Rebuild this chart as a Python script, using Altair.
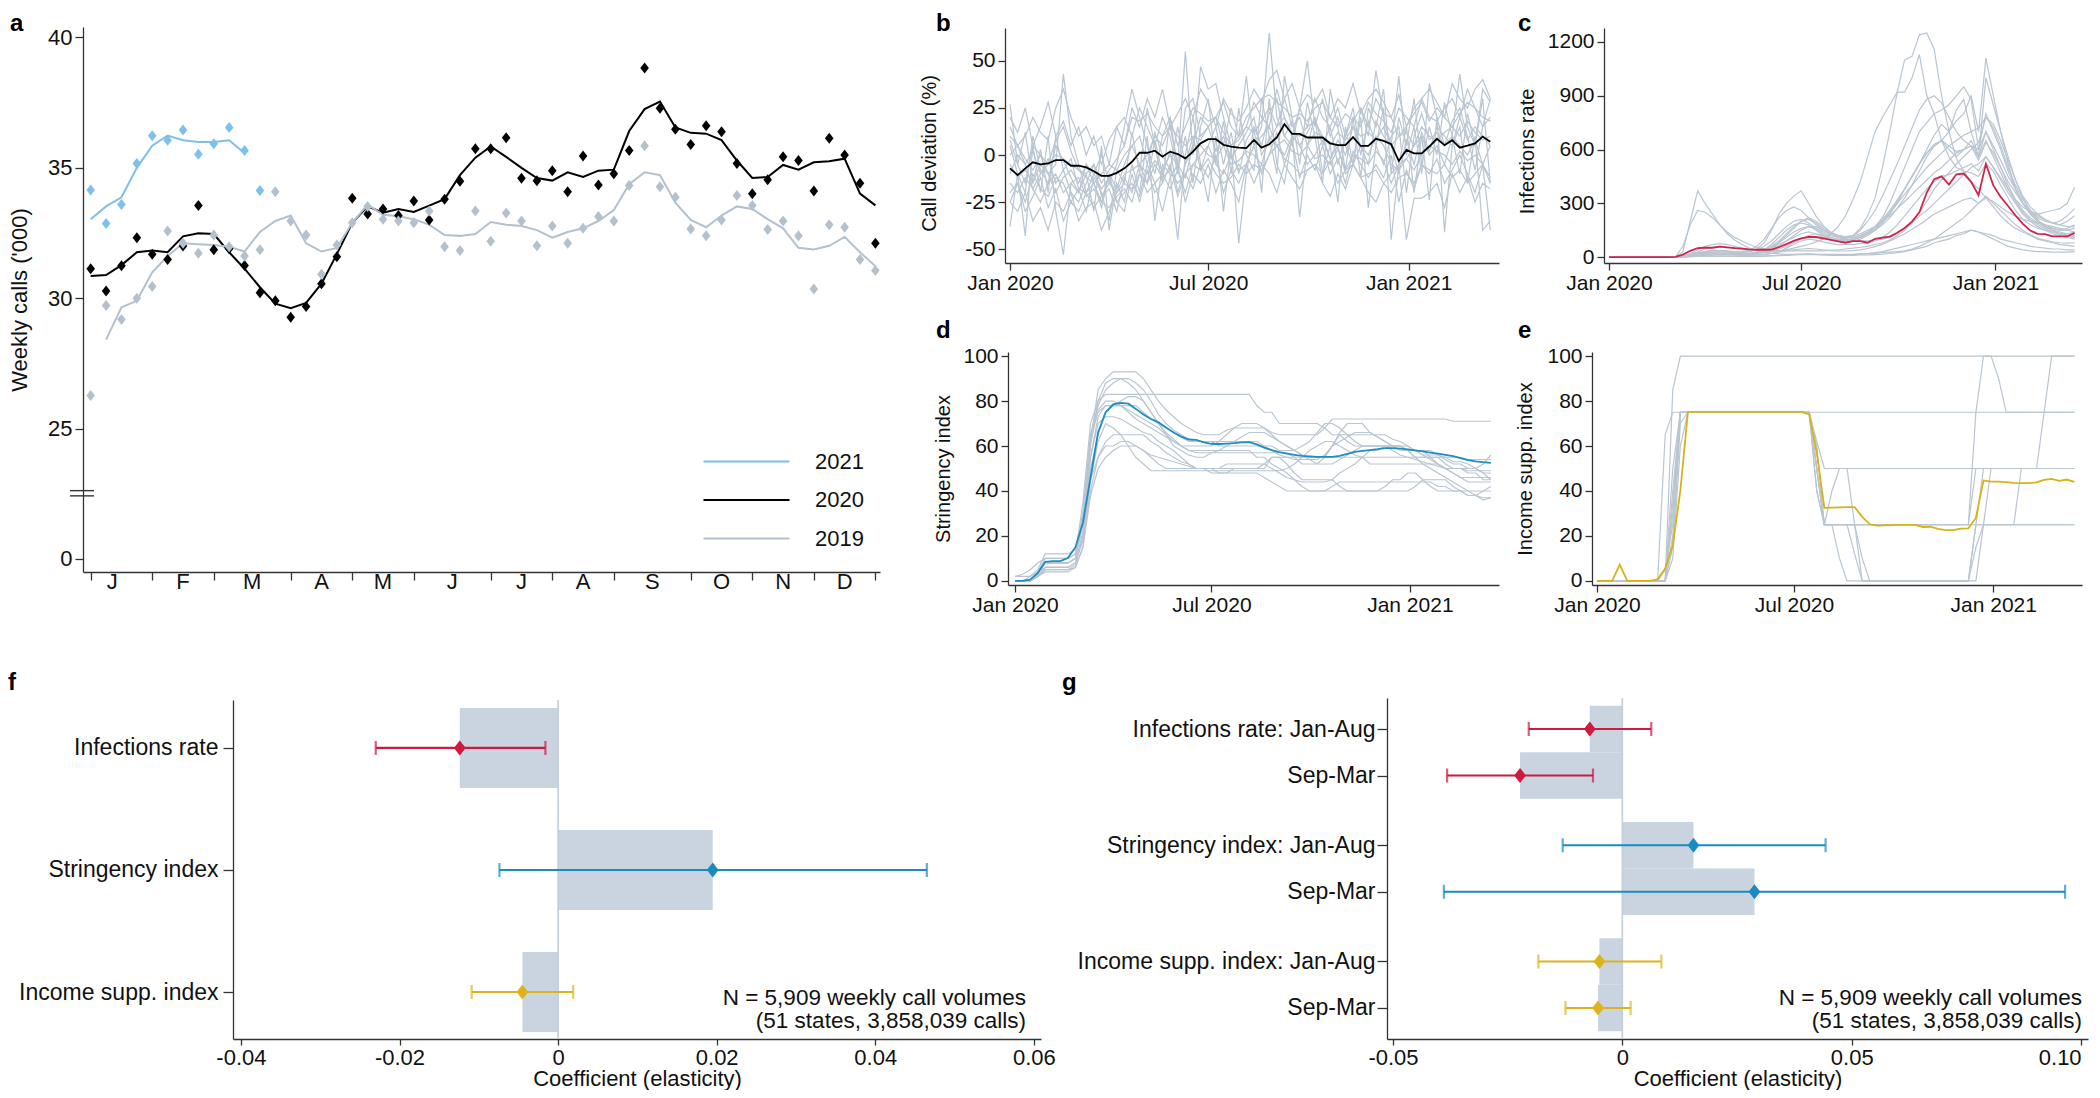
import altair as alt
import pandas as pd

W, H = 2084, 1082
FONT = "Liberation Sans"
AXC = "#333333"
GREY = "#B9C5D1"
BARC = "#C9D4E0"
ZEROC = "#C3CEDA"
DIAMOND = "M0,-1L0.78,0L0,1L-0.78,0Z"

# ---------------- panel a: weekly calls ('000) ----------------
calls_2020 = [31.13, 30.28, 31.24, 32.32, 31.69, 31.48, 32.0, 33.55, 31.86, 31.90, 31.25, 30.21, 29.90,
              29.27, 29.68, 30.55, 31.59, 33.83, 33.23, 33.42, 33.17, 33.73, 33.0, 33.79, 34.48, 35.73,
              35.73, 36.15, 34.6, 34.5, 34.89, 34.08, 35.45, 34.34, 34.77, 35.66, 38.83, 37.28, 36.48,
              35.89, 36.61, 36.38, 35.17, 34.01, 34.54, 35.42, 35.28, 34.11, 36.13, 35.49, 34.41, 32.11]
smooth_2020 = [30.85, 30.89, 31.27, 31.76, 31.83, 31.76, 32.37, 32.49, 32.46, 31.76, 31.13, 30.42, 29.79,
               29.62, 29.82, 30.56, 31.69, 32.89, 33.52, 33.28, 33.42, 33.31, 33.55, 33.80, 34.72, 35.39,
               35.82, 35.42, 35.0, 34.61, 34.51, 34.83, 34.65, 34.89, 34.93, 36.41, 37.25, 37.54, 36.55,
               36.34, 36.31, 36.06, 35.28, 34.61, 34.65, 35.11, 34.93, 35.21, 35.25, 35.35, 34.01, 33.56]
calls_2019 = [26.27, 29.72, 29.18, 30.0, 30.45, 32.58, 32.11, 31.72, 32.42, 31.97, 31.62, 31.86, 34.08,
              32.96, 32.42, 30.92, 32.04, 32.89, 33.52, 33.03, 32.96, 32.89, 33.34, 31.97, 31.83, 33.34,
              32.18, 33.27, 32.96, 32.01, 32.77, 32.11, 32.68, 33.13, 32.96, 34.32, 35.85, 34.27, 33.87,
              32.65, 32.39, 33.0, 33.94, 33.55, 32.63, 32.96, 32.39, 30.35, 32.82, 32.72, 31.48, 31.06]
smooth_2019 = [28.41, 29.65, 29.90, 30.99, 31.62, 32.11, 32.07, 32.04, 31.97, 31.79, 32.54, 32.96, 33.17,
               32.11, 31.79, 31.93, 32.89, 33.59, 33.20, 33.14, 33.03, 32.82, 32.42, 32.39, 32.46, 32.92,
               32.82, 32.77, 32.61, 32.32, 32.54, 32.68, 32.96, 33.38, 34.37, 34.83, 34.72, 33.66, 33.0,
               32.72, 33.17, 33.52, 33.42, 33.03, 32.68, 31.93, 31.87, 32.01, 32.35, 31.76, 31.23]  # weeks 2-52
calls_2021 = [34.15, 32.86, 33.59, 35.17, 36.23, 36.06, 36.45, 35.52, 35.92, 36.55, 35.66, 34.13]
smooth_2021 = [33.03, 33.52, 33.87, 35.0, 35.85, 36.24, 36.06, 35.99, 35.99, 36.06, 35.56]
years = ["2021", "2020", "2019"]
year_colors = ["#7DC0EC", "#000000", "#B3C0CE"]
month_letters = ["J", "F", "M", "A", "M", "J", "J", "A", "S", "O", "N", "D"]
month_mid_weeks = [2.4, 7, 11.5, 16, 20, 24.5, 29, 33, 37.5, 42, 46, 50]
month_tick_weeks = [1, 5, 9, 14, 18, 22, 27, 31, 35, 40, 44, 48, 52]
a_yticks = [20, 25, 30, 35, 40]  # 20 is drawn as the "0" of the broken axis
break_marks = [22.42, 22.62]

# ---------------- panel b: call deviation (%) ----------------
b_mean = [-7.1, -10.7, -7.1, -3.9, -5.0, -4.5, -2.7, -2.7,
          -5.7, -5.7, -6.6, -8.6, -11.1, -11.1, -9.5, -7.1,
          -3.6, 1.2, 1.2, 2.3, -0.9, 1.8, 0.5, -1.8,
          1.8, 6.2, 8.4, 8.4, 5.4, 4.5, 3.9, 3.7,
          8.0, 3.9, 5.7, 9.3, 16.4, 11.2, 11.2, 9.3,
          9.3, 9.3, 6.2, 5.2, 5.2, 9.5, 4.8, 4.8,
          8.6, 7.5, 5.7, -3.2, 2.7, 0.9, 0.9, 4.5,
          8.6, 5.2, 7.9, 3.9, 5.0, 6.2, 9.8, 7.0]
b_states = {
    "s1": [5, -10, -20, 10, -8, -15, 5, -3, -12, -20, -5, -15, -25, -10, -18, -5,
           5, 10, -5, 12, 0, -8, 15, -5, 5, 20, 15, 2, 10, -2, 5, 12,
           20, 0, 8, 15, 30, 15, 20, 5, 12, 10, -2, 8, 0, 15, 5, -5,
           18, 10, 5, -10, 8, -5, 12, 2, 15, 10, 5, 20, 8, 15, 10, 5],
    "s2": [27, -5, -15, 5, 0, -10, -5, 43, 10, -5, -20, -10, 0, -15, -5, 15,
           35, 20, 5, -10, 10, 15, -5, 55, 0, 47, 35, 38, 20, 5, 10, 42,
           5, 15, 65, 20, 10, 5, 25, 50, 15, 30, 10, 20, 5, -5, 25, 10,
           45, 20, 5, 42, 0, 15, -10, 38, 20, 5, 10, 43, 15, 5, 35, 28],
    "s3": [-38, -10, -43, 5, -20, 10, -30, -53, -15, -20, -10, -30, 5, -40, -15, -25,
           -5, -20, 10, -35, -5, -10, -45, 0, 20, -5, -25, 10, -30, 5, -47, -10,
           15, -20, 30, -5, -15, 10, -33, 5, 20, -10, 5, -25, 15, -5, 20, -28,
           5, 25, -45, -5, 15, -20, 10, -24, 20, -41, 5, 15, -15, 10, -40, -35],
    "s4": [-20, -15, -25, -10, -18, -22, -12, -15, -25, -18, -20, -28, -22, -15, -20, -10,
           -8, -5, -10, -3, -8, 0, -5, -12, 5, 5, 0, -2, 5, -5, -3, 2,
           0, -5, 10, 5, 8, 2, 0, 5, -2, 0, -5, 3, -8, 0, -2, -5,
           2, -3, -15, -5, -2, -8, 0, 5, 2, 0, -5, 2, -3, 0, -5, -15],
    "s5": [10, 5, -2, -8, 0, -5, 8, 15, 2, -8, -10, -5, -15, -8, -2, 5,
           20, 18, 22, 15, 10, 20, 5, 15, 25, 22, 18, 20, 28, 15, 10, 20,
           25, 30, 32, 28, 25, 20, 22, 18, 25, 28, 20, 15, 22, 18, 25, 15,
           30, 22, 20, 10, 15, 22, 28, 18, 25, 20, 15, 22, 28, 25, 20, 18],
    "s6": [-15, -20, -12, -18, -25, -15, -10, -20, -15, -12, -22, -18, -25, -28, -20, -15,
           -18, -10, -15, -5, -12, -8, -15, -10, -5, -8, -2, -10, -15, -12, -5, -10,
           -5, -8, 0, 5, -2, -5, -10, -8, -5, -10, -3, -15, -8, -5, -12, -10,
           -8, -15, -20, -12, -10, -15, -5, -8, -10, -5, -12, -8, -15, -10, -5, -12],
    "s7": [0, 5, -5, 2, -10, -5, 0, -2, -5, -8, -12, -15, -10, -5, -8, 0,
           5, -5, 0, 10, 5, 15, 10, 5, 10, 8, 15, 20, 12, 5, 8, 15,
           12, 18, 25, 15, 20, 12, 10, 15, 18, 10, 5, 12, 8, 15, 10, 12,
           8, 15, 5, 10, 12, 5, 15, 10, 8, 12, 15, 10, 18, 12, 8, 10],
    "s8": [-5, -12, -8, -15, -5, -10, -20, -12, -8, -15, -5, -10, -18, -12, -25, -20,
           -15, -22, -5, -15, -10, -18, -8, -20, -5, 0, 5, -5, -10, 0, -8, -5,
           5, 10, 15, 5, 0, 10, 5, -5, 0, 8, -2, 5, -10, -5, 5, 0,
           10, 5, -5, -8, -2, 5, 10, 0, 5, -5, 10, 5, 0, 8, -5, 5],
    "s9": [15, 5, 10, 20, 12, 8, 25, 35, 20, 10, 15, 5, 10, -5, 15, 20,
           10, 25, 15, 5, 20, 10, -10, 25, 30, 10, 15, 20, 5, 25, 10, 15,
           28, 20, 15, 35, 20, 10, 25, 15, 30, 20, 15, 25, 10, 20, 15, 28,
           22, 18, 12, 25, 20, 15, 30, 20, 18, 25, 30, 20, 35, 25, 15, 20],
    "s10": [-25, -30, -20, -35, -28, -40, -25, -30, -20, -35, -28, -25, -40, -30, -22, -18,
            -25, -10, -20, -15, -30, -12, -5, -25, -10, -15, -5, -20, -8, -15, -25, -5,
            -15, -5, -10, -20, -5, -12, -18, -8, -5, -15, -22, -10, -18, -5, -12, -20,
            -25, -15, -10, -5, -45, -23, -23, -20, -15, -28, -10, -20, -12, -25, -15, -18],
    "s11": [8, -5, 12, -15, 3, -20, 10, -8, -2, -18, -30, -12, -20, -35, -8, -15,
            12, -10, 25, 5, -15, 20, -8, 10, -15, 15, 30, -5, 18, -10, 25, 0,
            -8, 30, 10, -10, 42, 20, -5, 28, 10, -15, 35, 15, -8, 20, -12, 25,
            15, 35, -10, 20, 5, 30, -5, 15, 0, 28, 10, -10, 22, 5, 30, -15],
    "s12": [-10, 0, -5, -18, -10, -2, -15, -8, -20, -25, -15, -5, -22, -18, -30, -12,
            -20, -5, -15, 8, -10, 2, -20, -5, 10, -8, 5, 15, -5, 12, -10, 8,
            15, 5, 22, 30, 10, 18, 5, 12, 20, 5, 15, -5, 10, 25, 0, 18,
            5, -5, 10, 15, -20, 10, 22, 8, 12, 5, 18, 25, 10, -8, 15, 30],
    "s13": [-25, -15, -30, -22, -12, -28, -18, -35, -25, -30, -20, -15, -28, -10, -25, -30,
            -10, -25, -8, -20, -15, -5, -22, -10, -18, -5, -12, 0, -20, -8, -15, -5,
            5, -10, 0, 12, -5, 8, -12, 0, -8, 5, -10, -2, -15, 2, -5, -12,
            -5, -12, 0, -25, -8, -18, -5, -10, -2, -15, -8, 0, -10, -20, -5, -40],
    "s14": [20, 12, 25, 5, 15, 28, 10, 18, 5, 15, 0, 10, -5, 8, 15, 5,
            25, 15, 30, 20, 35, 15, 22, 30, 20, 35, 28, 15, 30, 22, 18, 25,
            35, 28, 40, 45, 30, 38, 25, 32, 28, 35, 20, 30, 25, 38, 22, 30,
            35, 28, 20, 32, 15, 25, 30, 35, 28, 20, 38, 30, 25, 35, 40, 30],
}

# ---------------- panel c: infections rate ----------------
c_mean = [0, 0, 0, 0, 0, 0, 0, 0,
          0, 1, 14, 35, 50, 52, 52, 58,
          54, 50, 47, 43, 41, 41, 42, 55,
          72, 90, 104, 112, 112, 104, 96, 88,
          80, 89, 89, 80, 102, 109, 114, 136,
          162, 198, 250, 360, 435, 450, 405, 462,
          466, 420, 345, 520, 400, 335, 285, 232,
          185, 148, 130, 128, 115, 115, 115, 135]
c_states = {
    "s1": [0, 0, 0, 0, 0, 0, 0, 0, 0, 0, 30, 200, 370, 300, 240, 180,
           130, 95, 70, 50, 38, 28, 22, 18, 15, 15, 15, 15, 15, 15, 15, 15,
           15, 15, 18, 20, 22, 25, 28, 30, 35, 45, 60, 80, 100, 130, 160, 190,
           220, 260, 300, 330, 310, 280, 250, 230, 210, 200, 190, 180, 170, 160, 150, 140],
    "s2": [0, 0, 0, 0, 0, 0, 0, 0, 0, 0, 2, 5, 8, 10, 12, 15,
           15, 18, 20, 22, 25, 28, 30, 35, 40, 50, 60, 70, 85, 100, 130, 170,
           230, 320, 420, 560, 700, 780, 850, 920, 1100, 1120, 1240, 1250, 1160, 900, 700, 550,
           480, 420, 380, 330, 280, 230, 190, 160, 140, 120, 100, 90, 80, 70, 65, 60],
    "s3": [0, 0, 0, 0, 0, 0, 0, 0, 0, 0, 5, 10, 15, 20, 20, 20,
           20, 18, 15, 15, 20, 30, 50, 80, 120, 160, 200, 220, 200, 170, 140, 120,
           110, 110, 120, 140, 170, 210, 260, 320, 380, 450, 520, 580, 620, 650, 700, 760,
           800, 900, 700, 1110, 900, 700, 520, 380, 300, 250, 200, 170, 150, 140, 130, 120],
    "s4": [0, 0, 0, 0, 0, 0, 0, 0, 0, 0, 3, 8, 12, 15, 18, 20,
           20, 20, 25, 30, 45, 80, 150, 240, 300, 340, 370, 300, 230, 175, 135, 110,
           100, 95, 90, 90, 95, 100, 110, 130, 160, 200, 250, 310, 380, 430, 470, 520,
           560, 600, 640, 780, 720, 620, 500, 400, 320, 260, 210, 170, 150, 130, 120, 110],
    "s5": [0, 0, 0, 0, 0, 0, 0, 0, 0, 0, 1, 3, 5, 6, 6, 5,
           5, 4, 4, 4, 4, 5, 6, 8, 10, 12, 14, 15, 14, 12, 10, 10,
           10, 10, 12, 12, 14, 16, 20, 25, 30, 40, 50, 60, 80, 90, 100, 120,
           130, 150, 140, 130, 120, 100, 90, 80, 70, 60, 55, 50, 45, 45, 40, 40],
    "s6": [0, 0, 0, 0, 0, 0, 0, 0, 0, 0, 5, 20, 40, 60, 70, 75,
           70, 60, 50, 40, 35, 30, 35, 45, 60, 80, 100, 120, 130, 120, 100, 95,
           90, 100, 110, 130, 150, 180, 220, 270, 330, 400, 480, 560, 620, 650, 600, 560,
           600, 650, 560, 700, 620, 540, 450, 380, 300, 240, 200, 180, 160, 150, 160, 180],
    "s7": [0, 0, 0, 0, 0, 0, 0, 0, 0, 2, 60, 180, 260, 250, 220, 180,
           140, 110, 90, 70, 55, 45, 40, 35, 35, 35, 35, 35, 35, 35, 38, 40,
           45, 50, 55, 60, 70, 80, 95, 120, 150, 190, 230, 260, 300, 340, 380, 420,
           460, 500, 520, 560, 500, 440, 380, 320, 280, 250, 240, 250, 260, 270, 300, 390],
    "s8": [0, 0, 0, 0, 0, 0, 0, 0, 0, 0, 2, 5, 10, 15, 20, 22,
           22, 20, 18, 18, 20, 25, 40, 60, 90, 120, 150, 170, 170, 150, 130, 120,
           110, 110, 120, 140, 170, 220, 300, 400, 500, 600, 700, 750, 800, 820, 850, 900,
           950, 880, 600, 800, 700, 600, 480, 380, 300, 240, 200, 170, 150, 130, 120, 110],
    "s9": [0, 0, 0, 0, 0, 0, 0, 0, 0, 0, 2, 10, 20, 30, 35, 35,
           30, 25, 20, 18, 15, 15, 20, 30, 50, 70, 90, 100, 95, 85, 75, 70,
           70, 70, 75, 80, 90, 110, 140, 180, 230, 280, 330, 380, 420, 450, 460, 480,
           500, 520, 480, 560, 500, 430, 360, 300, 240, 200, 170, 150, 130, 120, 110, 100],
    "s10": [0, 0, 0, 0, 0, 0, 0, 0, 0, 0, 0, 2, 4, 5, 5, 5,
            5, 5, 5, 5, 5, 6, 8, 10, 12, 14, 16, 16, 15, 14, 13, 12,
            12, 14, 16, 20, 25, 30, 40, 50, 60, 70, 80, 90, 100, 110, 120, 130,
            140, 150, 140, 120, 100, 80, 60, 50, 40, 35, 30, 30, 28, 28, 28, 30],
    "s11": [0, 0, 0, 0, 0, 0, 0, 0, 0, 0, 3, 10, 18, 25, 28, 30,
            28, 25, 22, 20, 25, 35, 55, 80, 110, 140, 160, 170, 160, 140, 120, 110,
            110, 120, 150, 200, 260, 340, 430, 520, 620, 720, 820, 880, 900, 860, 780, 700,
            650, 620, 600, 700, 600, 500, 400, 320, 260, 220, 190, 170, 160, 150, 150, 160],
    "s12": [0, 0, 0, 0, 0, 0, 0, 0, 0, 0, 5, 15, 30, 45, 55, 60,
            55, 50, 45, 40, 40, 45, 60, 90, 130, 170, 200, 210, 190, 160, 130, 110,
            100, 100, 110, 130, 160, 200, 250, 300, 350, 400, 450, 500, 540, 580, 620, 650,
            680, 700, 720, 780, 740, 650, 540, 430, 340, 280, 240, 210, 190, 180, 200, 230],
    "s13": [0, 0, 0, 0, 0, 0, 0, 0, 0, 0, 2, 8, 15, 20, 22, 20,
            18, 15, 15, 18, 25, 40, 70, 110, 150, 180, 190, 180, 150, 120, 100, 90,
            85, 90, 100, 120, 150, 190, 240, 300, 380, 450, 520, 580, 630, 650, 620, 590,
            600, 620, 560, 650, 560, 470, 380, 310, 250, 210, 180, 160, 140, 130, 130, 140],
    "s14": [0, 0, 0, 0, 0, 0, 0, 0, 0, 0, 5, 15, 25, 30, 35, 35,
            30, 28, 30, 40, 60, 100, 160, 220, 260, 280, 260, 220, 180, 150, 130, 120,
            115, 120, 130, 150, 170, 200, 230, 270, 310, 350, 390, 430, 470, 500, 540, 580,
            600, 620, 540, 640, 580, 500, 420, 360, 300, 260, 230, 210, 190, 180, 170, 170],
    "s15": [0, 0, 0, 0, 0, 0, 0, 0, 0, 0, 1, 4, 8, 12, 14, 15,
            14, 12, 10, 10, 12, 15, 20, 28, 35, 40, 45, 48, 45, 40, 36, 34,
            34, 36, 40, 48, 58, 72, 90, 110, 130, 155, 180, 210, 240, 260, 280, 300,
            320, 330, 300, 340, 300, 260, 220, 180, 150, 125, 105, 95, 85, 80, 78, 80],
    "s16": [0, 0, 0, 0, 0, 0, 0, 0, 0, 0, 3, 8, 15, 20, 22, 22,
            20, 18, 18, 20, 25, 35, 50, 70, 90, 110, 130, 140, 130, 110, 100, 95,
            100, 120, 160, 230, 330, 500, 700, 920, 920, 1000, 1130, 900, 800, 650, 560, 500,
            480, 470, 450, 520, 480, 400, 330, 260, 210, 180, 160, 150, 140, 130, 120, 110],
    "s17": [0, 0, 0, 0, 0, 0, 0, 0, 0, 0, 4, 12, 22, 30, 35, 38,
            35, 30, 28, 30, 40, 60, 90, 130, 170, 200, 210, 190, 160, 130, 110, 100,
            95, 100, 110, 130, 160, 200, 250, 310, 380, 450, 520, 600, 680, 740, 700, 820,
            880, 700, 560, 1000, 850, 700, 560, 430, 330, 260, 220, 200, 190, 200, 230, 270],
}

# ---------------- panel d: stringency index ----------------
d_mean = [0, 0, 0.6, 3.5, 8.5, 8.8, 8.8, 10.2,
          15, 26, 46, 66, 75, 78.5, 79.2, 78.8,
          76.5, 74, 72, 70.5, 68.2, 66, 64.2, 62.9,
          62.7, 61.6, 61, 60.9, 61.1, 61.3, 61.6, 61.7,
          60.7, 59.3, 58.2, 57.3, 56.6, 56.1, 55.6, 55.4,
          55.2, 55.2, 55.2, 55.6, 56.5, 57.4, 57.8, 58.2,
          58.6, 59.1, 59.1, 58.8, 58.5, 58.1, 57.6, 57.1,
          56.6, 56.1, 55.5, 54.6, 53.7, 53.2, 52.8, 52.5]
d_states = {
    "s1": [0, 0, 2, 5, 12, 12, 12, 12, 14, 30, 62, 85, 90, 93, 93, 93,
           93, 90, 85, 80, 76, 73, 70, 68, 66, 65, 65, 65, 67, 68, 68, 68,
           68, 68, 66, 65, 65, 65, 65, 65, 65, 68, 72, 72, 72, 72, 72, 72,
           72, 72, 72, 72, 72, 72, 72, 72, 72, 72, 71, 71, 71, 71, 71, 71],
    "s2": [0, 0, 0, 2, 6, 6, 6, 6, 8, 20, 45, 55, 60, 60, 62, 62,
           60, 58, 55, 52, 50, 50, 50, 50, 50, 50, 50, 50, 50, 50, 50, 50,
           50, 52, 55, 55, 52, 48, 45, 45, 45, 45, 45, 42, 40, 40, 40, 40,
           40, 40, 40, 40, 40, 42, 45, 45, 45, 45, 42, 40, 38, 38, 36, 37],
    "s3": [2, 3, 5, 8, 10, 10, 10, 10, 12, 35, 70, 80, 83, 83, 83, 83,
           83, 83, 83, 83, 83, 83, 83, 83, 83, 83, 83, 83, 83, 83, 83, 83,
           78, 75, 75, 70, 70, 70, 70, 70, 70, 68, 65, 65, 62, 60, 60, 60,
           60, 60, 60, 58, 58, 55, 55, 55, 55, 52, 50, 50, 48, 48, 45, 45],
    "s4": [0, 0, 0, 3, 8, 8, 8, 8, 10, 25, 55, 70, 73, 73, 72, 70,
           68, 66, 65, 62, 60, 58, 55, 52, 50, 50, 48, 48, 48, 50, 50, 50,
           50, 50, 55, 55, 55, 55, 55, 55, 55, 55, 55, 55, 55, 55, 55, 52,
           52, 52, 52, 52, 52, 52, 52, 52, 52, 50, 50, 50, 50, 50, 48, 48],
    "s5": [0, 0, 0, 4, 10, 10, 10, 10, 12, 25, 50, 65, 75, 78, 80, 82,
           82, 80, 75, 70, 65, 60, 58, 56, 55, 55, 57, 58, 60, 62, 64, 66,
           66, 66, 64, 62, 60, 58, 56, 55, 55, 55, 60, 66, 70, 70, 70, 66,
           64, 62, 60, 60, 60, 58, 58, 58, 56, 54, 52, 52, 50, 50, 52, 56],
    "s6": [0, 0, 0, 2, 5, 5, 5, 5, 7, 20, 55, 73, 78, 78, 78, 76,
           74, 72, 70, 68, 65, 62, 60, 58, 58, 58, 58, 58, 58, 58, 58, 58,
           55, 55, 52, 50, 48, 45, 42, 40, 40, 40, 40, 40, 40, 40, 40, 40,
           40, 42, 45, 45, 48, 48, 45, 42, 40, 40, 40, 40, 38, 38, 40, 42],
    "s7": [0, 0, 0, 3, 8, 8, 8, 8, 10, 30, 65, 78, 85, 88, 90, 90,
           88, 85, 80, 74, 70, 67, 65, 63, 62, 62, 62, 60, 60, 60, 60, 60,
           60, 60, 60, 58, 58, 58, 60, 62, 66, 70, 70, 68, 65, 62, 60, 60,
           60, 60, 60, 60, 58, 58, 58, 55, 55, 55, 53, 53, 52, 50, 48, 45],
    "s8": [2, 2, 2, 4, 6, 6, 6, 6, 8, 18, 40, 55, 62, 65, 65, 65,
           65, 65, 62, 60, 57, 55, 53, 52, 50, 50, 50, 50, 52, 52, 52, 52,
           52, 52, 50, 48, 46, 45, 44, 44, 44, 44, 45, 48, 50, 52, 55, 58,
           58, 60, 60, 60, 58, 55, 52, 50, 48, 46, 44, 42, 40, 38, 37, 37],
    "s9": [0, 0, 0, 2, 5, 5, 5, 5, 6, 15, 45, 62, 70, 68, 65, 60,
           55, 52, 49, 49, 49, 49, 49, 49, 49, 49, 49, 49, 49, 49, 49, 49,
           49, 49, 49, 49, 50, 52, 55, 58, 60, 62, 62, 60, 58, 56, 55, 55,
           55, 55, 55, 55, 55, 55, 55, 55, 52, 50, 48, 46, 44, 44, 44, 44],
    "s10": [0, 0, 0, 2, 6, 6, 6, 6, 8, 22, 60, 80, 88, 90, 90, 88,
            85, 80, 75, 70, 66, 63, 60, 58, 57, 57, 57, 57, 57, 57, 57, 57,
            57, 57, 57, 57, 57, 55, 52, 52, 52, 55, 60, 65, 65, 65, 65, 65,
            65, 65, 63, 62, 60, 58, 56, 54, 52, 50, 48, 46, 46, 46, 46, 46],
    "s11": [0, 0, 0, 3, 8, 8, 8, 8, 10, 28, 62, 76, 80, 80, 78, 75,
            72, 70, 68, 66, 64, 62, 60, 60, 60, 60, 60, 62, 65, 68, 70, 70,
            70, 68, 65, 62, 60, 58, 56, 54, 52, 52, 52, 54, 56, 58, 60, 60,
            60, 60, 58, 56, 55, 54, 53, 52, 51, 50, 50, 50, 49, 49, 49, 49],
    "s12": [0, 0, 0, 2, 4, 4, 4, 4, 6, 15, 38, 50, 55, 58, 60, 60,
            60, 58, 56, 55, 54, 53, 52, 51, 50, 50, 50, 48, 48, 48, 48, 48,
            48, 46, 44, 42, 40, 40, 40, 40, 40, 40, 42, 44, 44, 44, 44, 44,
            44, 44, 44, 44, 44, 44, 44, 44, 42, 42, 40, 40, 40, 40, 40, 40],
    "s13": [0, 0, 0, 3, 8, 8, 8, 8, 10, 30, 65, 75, 78, 78, 78, 78,
            78, 75, 72, 70, 68, 66, 64, 62, 62, 62, 62, 62, 62, 62, 62, 62,
            62, 60, 58, 56, 55, 54, 54, 54, 54, 56, 60, 62, 64, 66, 66, 66,
            64, 62, 60, 60, 58, 58, 56, 56, 56, 55, 55, 55, 54, 54, 54, 54],
}

# ---------------- panel e: income support index ----------------
e_mean = [0, 0, 0, 7.3, 0, 0, 0, 0,
          0.7, 5.5, 15.9, 40, 75.2, 75.2, 75.2, 75.2,
          75.2, 75.2, 75.2, 75.2, 75.2, 75.2, 75.2, 75.2,
          75.2, 75.2, 75.2, 75.2, 74, 57, 32.5, 32.6,
          32.7, 32.8, 32.8, 28.5, 25.2, 24.6, 24.7, 24.8,
          24.9, 24.9, 24.9, 24.0, 24.1, 23.2, 22.6, 22.6,
          23.3, 23.4, 28, 44.7, 44.2, 44.2, 43.9, 43.6,
          43.5, 43.5, 43.8, 44.9, 45.4, 44.5, 45.1, 44.1]
e_states = {
    "s1": [0, 0, 0, 0, 0, 0, 0, 0, 0, 0, 85, 100, 100, 100, 100, 100,
           100, 100, 100, 100, 100, 100, 100, 100, 100, 100, 100, 100, 100, 100, 100, 100,
           100, 100, 100, 100, 100, 100, 100, 100, 100, 100, 100, 100, 100, 100, 100, 100,
           100, 100, 100, 100, 100, 100, 100, 100, 100, 100, 100, 100, 100, 100, 100, 100],
    "s2": [0, 0, 0, 0, 0, 0, 0, 0, 0, 65, 75, 75, 75, 75, 75, 75,
           75, 75, 75, 75, 75, 75, 75, 75, 75, 75, 75, 75, 75, 75, 75, 75,
           75, 75, 75, 75, 75, 75, 75, 75, 75, 75, 75, 75, 75, 75, 75, 75,
           75, 75, 75, 75, 75, 75, 75, 75, 75, 75, 75, 75, 75, 75, 75, 75],
    "s3": [0, 0, 0, 0, 0, 0, 0, 0, 0, 0, 20, 75, 75, 75, 75, 75,
           75, 75, 75, 75, 75, 75, 75, 75, 75, 75, 75, 75, 75, 62, 50, 50,
           50, 50, 50, 50, 50, 50, 50, 50, 50, 50, 50, 50, 50, 50, 50, 50,
           50, 50, 50, 50, 50, 50, 50, 50, 50, 50, 50, 50, 50, 50, 50, 50],
    "s4": [0, 0, 0, 0, 0, 0, 0, 0, 0, 0, 10, 60, 75, 75, 75, 75,
           75, 75, 75, 75, 75, 75, 75, 75, 75, 75, 75, 75, 75, 40, 25, 25,
           25, 25, 25, 25, 25, 25, 25, 25, 25, 25, 25, 25, 25, 25, 25, 25,
           25, 25, 25, 25, 25, 25, 25, 25, 25, 25, 25, 25, 25, 25, 25, 25],
    "s5": [0, 0, 0, 0, 0, 0, 0, 0, 0, 5, 25, 75, 75, 75, 75, 75,
           75, 75, 75, 75, 75, 75, 75, 75, 75, 75, 75, 75, 75, 50, 25, 25,
           25, 25, 12, 0, 0, 0, 0, 0, 0, 0, 0, 0, 0, 0, 0, 0,
           0, 0, 25, 50, 50, 50, 50, 50, 50, 50, 50, 50, 50, 50, 50, 50],
    "s6": [0, 0, 0, 0, 0, 0, 0, 0, 0, 0, 30, 75, 75, 75, 75, 75,
           75, 75, 75, 75, 75, 75, 75, 75, 75, 75, 75, 75, 75, 40, 25, 40,
           50, 50, 25, 0, 0, 0, 0, 0, 0, 0, 0, 0, 0, 0, 0, 0,
           0, 0, 15, 25, 25, 25, 25, 25, 50, 50, 50, 50, 50, 50, 50, 50],
    "s7": [0, 0, 0, 0, 0, 0, 0, 0, 0, 0, 40, 75, 75, 75, 75, 75,
           75, 75, 75, 75, 75, 75, 75, 75, 75, 75, 75, 75, 75, 50, 25, 25,
           25, 25, 25, 25, 25, 25, 25, 25, 25, 25, 25, 25, 25, 25, 25, 25,
           25, 25, 75, 100, 100, 90, 75, 75, 75, 75, 75, 75, 75, 75, 75, 75],
    "s8": [0, 0, 0, 0, 0, 0, 0, 0, 0, 0, 15, 70, 75, 75, 75, 75,
           75, 75, 75, 75, 75, 75, 75, 75, 75, 75, 75, 75, 75, 50, 25, 25,
           25, 25, 25, 10, 0, 0, 0, 0, 0, 0, 0, 0, 0, 0, 0, 0,
           0, 0, 0, 25, 50, 50, 50, 50, 50, 50, 50, 75, 100, 100, 100, 100],
    "s9": [0, 0, 0, 0, 0, 0, 0, 0, 0, 0, 50, 75, 75, 75, 75, 75,
           75, 75, 75, 75, 75, 75, 75, 75, 75, 75, 75, 75, 75, 50, 25, 25,
           25, 25, 25, 25, 25, 25, 25, 25, 25, 25, 25, 25, 25, 25, 25, 25,
           25, 25, 50, 50, 50, 50, 50, 50, 50, 50, 50, 50, 50, 50, 50, 50],
    "s10": [0, 0, 0, 0, 0, 0, 0, 0, 0, 0, 35, 75, 75, 75, 75, 75,
            75, 75, 75, 75, 75, 75, 75, 75, 75, 75, 75, 75, 75, 60, 25, 25,
            10, 0, 0, 0, 0, 0, 0, 0, 0, 0, 0, 0, 0, 0, 0, 0,
            0, 0, 25, 25, 25, 25, 25, 25, 25, 25, 25, 25, 25, 25, 25, 25],
}

# ---------------- panels f, g: coefficients ----------------
f_names = ["Infections rate", "Stringency index", "Income supp. index"]
f_pos = [1, 2, 3]
f_coef = [-0.0124, 0.0195, -0.0045]
f_lo = [-0.0230, -0.0074, -0.0109]
f_hi = [-0.0016, 0.0465, 0.0019]
f_cols = ["#CC1A40", "#1A8AC0", "#DDB31C"]

g_names = ["Infections rate: Jan-Aug", "Sep-Mar", "Stringency index: Jan-Aug", "Sep-Mar",
           "Income supp. index: Jan-Aug", "Sep-Mar"]
g_pos = [0, 1, 2.5, 3.5, 5, 6]
g_coef = [-0.0071, -0.0223, 0.0155, 0.0288, -0.0050, -0.0053]
g_lo = [-0.0204, -0.0382, -0.0130, -0.0389, -0.0183, -0.0124]
g_hi = [0.0063, -0.0064, 0.0443, 0.0965, 0.0085, 0.0018]
g_cols = ["#CC1A40", "#CC1A40", "#1A8AC0", "#1A8AC0", "#DDB31C", "#DDB31C"]

note_lines = ["N = 5,909 weekly call volumes", "(51 states, 3,858,039 calls)"]


# ======================================================================
def ax_common(**kw):
    base = dict(grid=False, labelFlush=False, labelOverlap=False, domainColor=AXC, tickColor=AXC,
                domainWidth=1.3, tickWidth=1.3, labelColor="#111111", titleColor="#111111",
                labelFont=FONT, titleFont=FONT, titleFontWeight="normal", labelLimit=600)
    base.update(kw)
    return alt.Axis(**base)


def letter(t, x, y):
    return alt.Chart(pd.DataFrame({"t": [t]})).mark_text(
        font=FONT, fontSize=24, fontWeight="bold", align="left", baseline="alphabetic", color="black"
    ).encode(x=alt.value(x), y=alt.value(y), text="t:N")


# ---------------- panel a ----------------
A_XR, A_YR = [75, 872], [564, 19]


def xa(field):
    return alt.X(field, scale=alt.Scale(domain=[0.5, 52.3], range=A_XR, nice=False, zero=False),
                 axis=ax_common(orient="bottom", offset=A_YR[0] - H, values=month_tick_weeks, labels=False,
                                tickSize=8, title=None))


def ya(field):
    return alt.Y(field, scale=alt.Scale(domain=[19.5, 40.4], range=A_YR, nice=False, zero=False),
                 axis=ax_common(orient="left", offset=-A_XR[0], values=a_yticks,
                                labelExpr="datum.value == 20 ? '0' : datum.value + ''",
                                tickSize=8, labelPadding=3, labelFontSize=22, titleFontSize=22,
                                title="Weekly calls ('000)", titlePadding=16))


pts_rows, line_rows = [], []
for yr, vals, start in [("2020", calls_2020, 1), ("2019", calls_2019, 1), ("2021", calls_2021, 1)]:
    for i, v in enumerate(vals):
        pts_rows.append({"week": start + i, "year": yr, "v": v})
for yr, vals, start in [("2020", smooth_2020, 1), ("2019", smooth_2019, 2), ("2021", smooth_2021, 1)]:
    for i, v in enumerate(vals):
        line_rows.append({"week": start + i, "year": yr, "v": v})
df_a_pts = pd.DataFrame(pts_rows)
df_a_line = pd.DataFrame(line_rows)

legend_a = alt.Legend(orient="none", legendX=694, legendY=435, symbolType="stroke", symbolSize=7400,
                      symbolStrokeWidth=2, clipHeight=37, rowPadding=1.5, labelFontSize=22, labelFont=FONT,
                      labelOffset=24, title=None, padding=0, labelColor="#111111")
color_a = alt.Color("year:N", scale=alt.Scale(domain=years, range=year_colors), legend=legend_a)

a_lines = alt.Chart(df_a_line).mark_line(strokeWidth=2).encode(
    x=xa("week:Q"), y=ya("v:Q"), color=color_a, detail="year:N")
a_pts = alt.Chart(df_a_pts).mark_point(shape=DIAMOND, filled=True, size=121, opacity=1).encode(
    x=xa("week:Q"), y=ya("v:Q"), color=color_a)
a_break = alt.Chart(pd.DataFrame({"v": break_marks})).mark_rule(color=AXC, strokeWidth=1.4).encode(
    y=ya("v:Q"), x=alt.value(62), x2=alt.value(86))
a_months = alt.Chart(pd.DataFrame({"week": month_mid_weeks, "m": month_letters})).mark_text(
    font=FONT, fontSize=22, baseline="middle", align="center", color="#111111").encode(
    x=xa("week:Q"), y=alt.value(574), text="m:N")
panel_a = alt.layer(a_lines, a_pts, a_break, a_months)


# ---------------- panels b-e ----------------
def long_df(states):
    rows = []
    for name, vals in states.items():
        for i, v in enumerate(vals):
            rows.append({"day": 7 * i, "s": name, "v": v})
    return pd.DataFrame(rows)


def small_panel(states, mean, mean_color, xdom, xrng, ydom, yrng, yticks, ytitle, tpad, ty=None):
    xax = ax_common(orient="bottom", offset=yrng[0] - H, values=[0, 182, 366],
                    labelExpr="datum.value == 0 ? 'Jan 2020' : datum.value == 182 ? 'Jul 2020' : 'Jan 2021'",
                    title=None, tickSize=7, labelFontSize=21, labelPadding=2)
    ykw = dict(orient="left", offset=-xrng[0], values=yticks, title=ytitle, titlePadding=tpad, tickSize=7,
               labelFontSize=21, titleFontSize=20, labelPadding=3, labelExpr="datum.value + ''")
    if ty is not None:
        ykw["titleY"] = ty
    yax = ax_common(**ykw)
    x = alt.X("day:Q", scale=alt.Scale(domain=xdom, range=xrng, nice=False, zero=False), axis=xax)
    y = alt.Y("v:Q", scale=alt.Scale(domain=ydom, range=yrng, nice=False, zero=False), axis=yax)
    grey = alt.Chart(long_df(states)).mark_line(color=GREY, strokeWidth=1.2).encode(x=x, y=y, detail="s:N")
    mdf = pd.DataFrame({"day": [7 * i for i in range(len(mean))], "v": mean})
    m = alt.Chart(mdf).mark_line(color=mean_color, strokeWidth=1.8).encode(x=x, y=y)
    return alt.layer(grey, m)


panel_b = small_panel(b_states, b_mean, "#000000", [-4.6, 449], [997, 1491], [-57.4, 67.5], [255, 20],
                      [-50, -25, 0, 25, 50], "Call deviation (%)", 25, ty=145)
panel_c = small_panel(c_states, c_mean, "#D2234A", [-4.7, 448], [1596, 2074], [-33, 1278], [255, 20],
                      [0, 300, 600, 900, 1200], "Infections rate", 10, ty=143)
panel_d = small_panel(d_states, d_mean, "#1B8EC2", [-6.5, 448.6], [1000, 1491], [-1.8, 101.8], [577, 344],
                      [0, 20, 40, 60, 80, 100], "Stringency index", 9)
panel_e = small_panel(e_states, e_mean, "#D9B215", [-4.6, 448], [1584, 2074], [-1.8, 101.8], [577, 344],
                      [0, 20, 40, 60, 80, 100], "Income supp. index", 11)


# ---------------- panels f, g ----------------
def coef_panel(names, pos, coef, lo, hi, cols, half, cap, xdom, xrng, xticks, ydom, yrng, ann_x, ytick, ypad):
    df = pd.DataFrame({"pos": pos, "coef": coef, "lo": lo, "hi": hi, "col": cols})
    df["base"] = 0.0
    df["y0"] = df["pos"] - half
    df["y1"] = df["pos"] + half
    expr = "''"
    for p, n in zip(reversed(pos), reversed(names)):
        expr = f"datum.value == {p} ? '{n}' : ({expr})"
    xax = ax_common(orient="bottom", offset=yrng[1] - H, values=xticks,
                    labelExpr="datum.value == 0 ? '0' : replace(format(datum.value, '.2f'), '\u2212', '-')",
                    labelAlign={"condition": {"test": "datum.value > 0.09", "value": "right"}, "value": "center"},
                    title="Coefficient (elasticity)", tickSize=6, labelFontSize=22, titleFontSize=22,
                    labelPadding=2, titlePadding=0)
    yax = ax_common(orient="left", offset=-xrng[0], values=pos, labelExpr=expr, title=None, tickSize=ytick,
                    labelFontSize=23, labelPadding=ypad)

    def X(f):
        return alt.X(f, scale=alt.Scale(domain=xdom, range=xrng, nice=False, zero=False), axis=xax)

    def Y(f):
        return alt.Y(f, scale=alt.Scale(domain=ydom, range=yrng, nice=False, zero=False), axis=yax)

    col = alt.Color("col:N", scale=None)
    bars = alt.Chart(df).mark_rect(color=BARC).encode(x=X("base:Q"), x2="coef:Q", y=Y("y0:Q"), y2="y1:Q")
    zdf = pd.DataFrame({"base": [0.0], "ya": [ydom[0]], "yb": [ydom[1]]})
    zero = alt.Chart(zdf).mark_rule(color=ZEROC, strokeWidth=1.6).encode(x=X("base:Q"), y=Y("ya:Q"), y2="yb:Q")
    err = alt.Chart(df).mark_rule(strokeWidth=2.2).encode(x=X("lo:Q"), x2="hi:Q", y=Y("pos:Q"), color=col)
    cap_lo = alt.Chart(df).mark_tick(orient="vertical", size=cap, thickness=2.2).encode(
        x=X("lo:Q"), y=Y("pos:Q"), color=col)
    cap_hi = alt.Chart(df).mark_tick(orient="vertical", size=cap, thickness=2.2).encode(
        x=X("hi:Q"), y=Y("pos:Q"), color=col)
    pts = alt.Chart(df).mark_point(shape=DIAMOND, filled=True, size=225, opacity=1).encode(
        x=X("coef:Q"), y=Y("pos:Q"), color=col)
    notes = []
    for t, yy in zip(note_lines, [990, 1013]):
        notes.append(alt.Chart(pd.DataFrame({"t": [t]})).mark_text(
            font=FONT, fontSize=22.5, align="right", baseline="middle", color="#111111").encode(
            x=alt.value(ann_x), y=alt.value(yy), text="t:N"))
    return alt.layer(bars, zero, err, cap_lo, cap_hi, pts, *notes)


panel_f = coef_panel(f_names, f_pos, f_coef, f_lo, f_hi, f_cols, 0.328, 14,
                     [-0.041, 0.0609], [225, 1033], [-0.04, -0.02, 0, 0.02, 0.04, 0.06],
                     [0.607, 3.385], [692, 1031], 1018, 10, 5)
panel_g = coef_panel(g_names, g_pos, g_coef, g_lo, g_hi, g_cols, 0.5, 14,
                     [-0.0513, 0.1015], [1379, 2080], [-0.05, 0, 0.05, 0.10],
                     [-0.667, 6.667], [690, 1031], 2074, 10, 2)

letters = [letter("a", 2, 23), letter("b", 928, 23), letter("c", 1510, 23), letter("d", 928, 330),
           letter("e", 1510, 330), letter("f", 0, 682), letter("g", 1054, 682)]

chart = alt.layer(panel_a, panel_b, panel_c, panel_d, panel_e, panel_f, panel_g, *letters).resolve_scale(
    x="independent", y="independent", color="independent"
).properties(width=W, height=H, padding=0, autosize="none").configure_view(stroke=None)

chart.save("out.html", embed_options={"renderer": "svg", "actions": False})
